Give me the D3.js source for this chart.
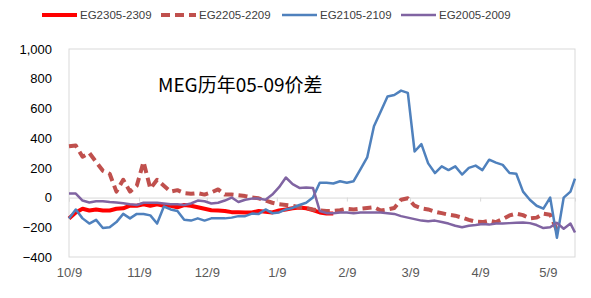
<!DOCTYPE html>
<html>
<head>
<meta charset="utf-8">
<script src="https://cdn.jsdelivr.net/npm/d3@7"></script>
<style>
  body { margin: 0; background: #fff; }
  svg { display: block; }
</style>
</head>
<body>
<script>
// MEG 05-09 spread by year, sampled every 3 calendar days from 10/9
var startDate = new Date(2022, 9, 9);
var dayOffsets = d3.range(0, 223, 3).concat([224]);
var dates = dayOffsets.map(function(d) { return d3.timeDay.offset(startDate, d); });

var seriesNames = ['EG2305-2309', 'EG2205-2209', 'EG2105-2109', 'EG2005-2009'];

var eg2305 = [-141,-100,-75,-87,-80,-87,-87,-75,-72,-55,
  -55,-45,-55,-45,-55,-55,-65,-50,-55,-65,
  -75,-85,-87,-90,-98,-98,-100,-100,-90,-95,
  -100,-87,-80,-72,-67,-72,-85,-100,-108,-108];

var eg2205 = [345,350,275,300,240,180,160,40,120,40,
  80,240,60,120,80,40,50,30,25,30,
  20,35,55,20,20,15,10,0,-5,-20,
  -35,-45,-50,-55,-65,-70,-80,-87,-90,-90,
  -85,-75,-80,-75,-70,-65,-87,-80,-70,-15,
  -5,-55,-72,-80,-95,-105,-115,-122,-135,-150,
  -162,-165,-155,-165,-145,-120,-108,-118,-140,-135,
  -108,-115,-220];

var eg2105 = [-141,-80,-140,-175,-150,-205,-200,-165,-110,-140,
  -110,-110,-120,-175,-60,-80,-90,-150,-155,-140,
  -155,-140,-140,-140,-135,-125,-125,-108,-110,-80,
  -105,-100,-80,-70,-50,-35,0,100,100,95,
  110,100,110,190,270,480,580,680,690,720,
  705,310,360,230,165,210,185,210,155,200,
  215,185,255,235,220,165,160,40,-15,-55,
  -75,0,-270,0,40,128];

var eg2005 = [27,27,-20,-33,-25,-25,-30,-33,-38,-45,
  -50,-35,-35,-35,-40,-45,-45,-50,-40,-20,
  -25,-40,-35,-20,0,-30,-15,-7,-7,-15,
  20,70,135,90,65,67,65,-90,-105,-105,
  -100,-100,-105,-100,-100,-100,-100,-105,-110,-125,
  -135,-145,-155,-160,-155,-165,-175,-190,-200,-190,
  -185,-178,-182,-175,-175,-172,-170,-168,-172,-185,
  -205,-200,-170,-210,-175,-235];

var yTicks = [-400, -200, 0, 200, 400, 600, 800, 1000];
var xTickDates = [new Date(2022, 9, 9), new Date(2022, 10, 9), new Date(2022, 11, 9),
  new Date(2023, 0, 9), new Date(2023, 1, 9), new Date(2023, 2, 9),
  new Date(2023, 3, 9), new Date(2023, 4, 9)];

var w = 591;
var h = 298;
var plotLeft = 69, plotRight = 575, plotTop = 49, plotBottom = 257;

var svg = d3.select('body')
  .append('svg')
  .attr('width', w)
  .attr('height', h);

var x = d3.scaleTime()
  .domain([startDate, d3.timeDay.offset(startDate, 224)])
  .range([plotLeft, plotRight]);

var y = d3.scaleLinear()
  .domain([-400, 1000])
  .range([plotBottom, plotTop]);

// plot area border
svg.append('rect')
  .attr('x', plotLeft)
  .attr('y', plotTop)
  .attr('width', plotRight - plotLeft)
  .attr('height', plotBottom - plotTop)
  .attr('fill', 'none')
  .attr('stroke', '#d9d9d9')
  .attr('stroke-width', 1);

// zero line with small ticks
var zeroAxis = svg.append('g')
  .attr('transform', 'translate(0,' + y(0) + ')')
  .call(d3.axisBottom(x).tickValues(xTickDates).tickSize(4).tickFormat(''));
zeroAxis.selectAll('path, line').attr('stroke', '#d9d9d9');

// x labels at the bottom
var xAxis = svg.append('g')
  .attr('transform', 'translate(0,' + plotBottom + ')')
  .call(d3.axisBottom(x).tickValues(xTickDates).tickSize(0).tickPadding(11)
    .tickFormat(d3.timeFormat('%-m/%-d')));
xAxis.select('.domain').remove();
xAxis.selectAll('text')
  .attr('fill', '#595959')
  .style('font', '13px "Liberation Sans", Arial, sans-serif');

// y labels
var yAxis = svg.append('g')
  .attr('transform', 'translate(' + plotLeft + ',0)')
  .call(d3.axisLeft(y).tickValues(yTicks).tickSize(0).tickPadding(17)
    .tickFormat(d3.format(',')));
yAxis.select('.domain').remove();
yAxis.selectAll('text')
  .attr('fill', '#000')
  .style('font', '13px "Liberation Sans", Arial, sans-serif');

var line = d3.line()
  .defined(function(d) { return d.v != null; })
  .x(function(d) { return x(d.date); })
  .y(function(d) { return y(d.v); });

var series = [
  {name: seriesNames[0], values: eg2305, color: '#ff0000', width: 4, dash: null},
  {name: seriesNames[1], values: eg2205, color: '#c0504d', width: 4, dash: '9,5'},
  {name: seriesNames[2], values: eg2105, color: '#4f81bd', width: 2.5, dash: null},
  {name: seriesNames[3], values: eg2005, color: '#8064a2', width: 2.5, dash: null}
];

series.forEach(function(s) {
  var pts = s.values.map(function(v, i) { return {date: dates[i], v: v}; });
  svg.append('path')
    .datum(pts)
    .attr('d', line)
    .attr('fill', 'none')
    .attr('stroke', s.color)
    .attr('stroke-width', s.width)
    .attr('stroke-linejoin', 'round')
    .attr('stroke-dasharray', s.dash);
});

// legend
var legendX = [42, 161, 282, 401];
var legend = svg.selectAll('.legend')
  .data(series)
  .enter()
  .append('g')
  .attr('transform', function(d, i) { return 'translate(' + legendX[i] + ',15)'; });

legend.append('line')
  .attr('x1', 0)
  .attr('x2', 35)
  .attr('y1', 0)
  .attr('y2', 0)
  .attr('stroke', function(d) { return d.color; })
  .attr('stroke-width', function(d) { return d.width; })
  .attr('stroke-dasharray', function(d) { return d.dash; });

legend.append('text')
  .attr('x', 38)
  .attr('y', 4)
  .attr('fill', '#404040')
  .style('font', '11.5px "Liberation Sans", Arial, sans-serif')
  .text(function(d) { return d.name; });

// title inside plot
svg.append('text')
  .attr('x', 158)
  .attr('y', 92)
  .attr('fill', '#000')
  .style('font', '19px "Noto Sans CJK SC", sans-serif')
  .text('MEG历年05-09价差');
</script>
</body>
</html>
